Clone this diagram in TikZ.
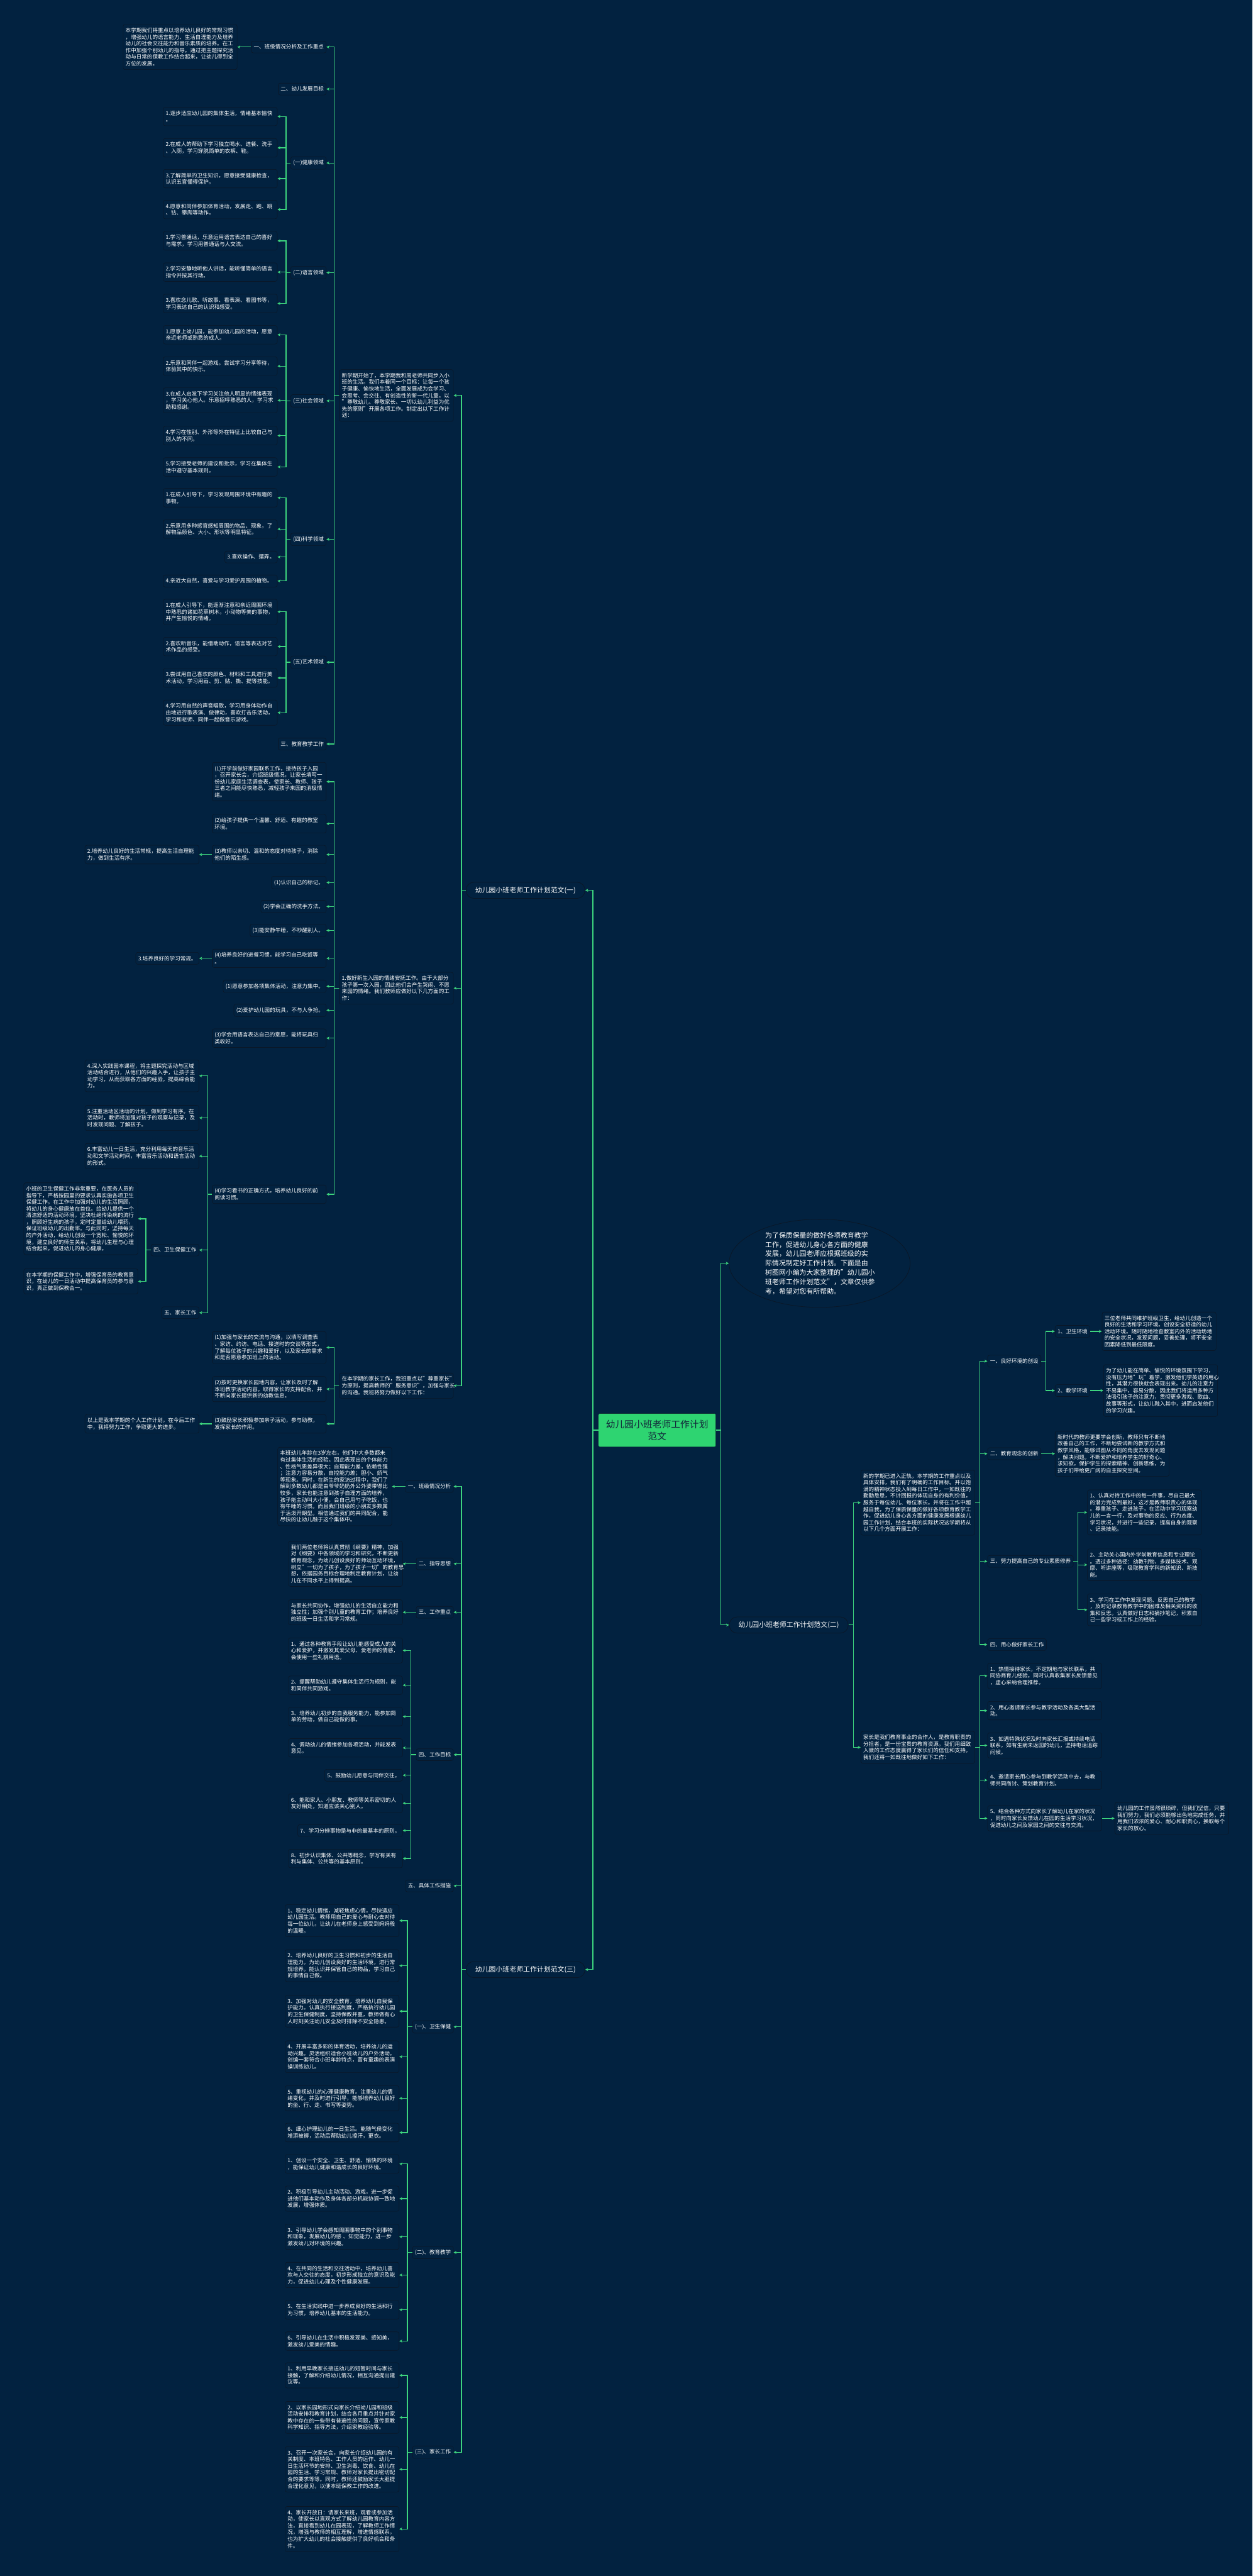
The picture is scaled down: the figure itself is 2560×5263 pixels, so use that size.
\documentclass[tikz,border=0pt]{standalone}
\usepackage{fontspec}
\setmainfont{Noto Sans CJK SC}
\usetikzlibrary{arrows.meta,shapes.geometric}
\definecolor{Navy}{HTML}{022240}
\definecolor{Edge}{HTML}{0A1727}
\definecolor{Leaf}{HTML}{3DD47E}
\definecolor{Mint}{HTML}{2ED471}
\definecolor{Ink}{HTML}{12263A}

\begin{document}
\begin{tikzpicture}[x=1pt, y=-1pt,
    cell/.style={draw=Edge, fill=Navy, rounded corners=4pt, text=white, line width=0.8pt,
      font=\fontsize{11}{13.6}\selectfont, inner xsep=5pt, inner ysep=7pt, align=left},
    para/.style={cell, text width=223pt},
    pill/.style={draw=Edge, fill=Navy, rounded corners=16pt, text=white, line width=1pt,
      font=\fontsize{14}{17}\selectfont, minimum width=243pt, minimum height=33pt},
    lk/.style={draw=Leaf, line width=1.6pt, -{Stealth[length=6pt,width=6pt]}}]
    \fill[Navy] (0,0) rectangle (2560,5263);
    \useasboundingbox (0,0) rectangle (2560,5263);

    % centre and main branches
    \node[fill=Mint, draw=Edge, rounded corners=3pt, text=Ink, font=\fontsize{19}{25}\selectfont,
      align=center, minimum width=240pt, minimum height=68pt] (root) at (1343,2922) {幼儿园小班老师工作计划\\范文};
    \node[pill, anchor=east] (b1) at (1196,1819) {幼儿园小班老师工作计划范文(一)};
    \node[pill, anchor=west] (b2) at (1490,3320) {幼儿园小班老师工作计划范文(二)};
    \node[pill, anchor=east] (b3) at (1196,4024) {幼儿园小班老师工作计划范文(三)};
    \node[ellipse, draw=Edge, fill=Navy, line width=1pt, text=white, minimum width=370pt, minimum height=148pt,
      inner sep=0pt, text width=222pt, align=left, font=\fontsize{14}{19}\selectfont] (intro) at (1675,2581)
      {为了保质保量的做好各项教育教学\\工作，促进幼儿身心各方面的健康\\发展，幼儿园老师应根据班级的实\\际情况制定好工作计划。下面是由\\树图网小编为大家整理的"幼儿园小\\班老师工作计划范文"，文章仅供参\\考，希望对您有所帮助。};

    % branch one
    \node[para, anchor=east] (b1a) at (927,808) {新学期开始了，本学期我和周老师共同步入小\\班的生活。我们本着同一个目标：让每一个孩\\子健康、愉快地生活，全面发展成为会学习、\\会思考、会交往、有创造性的新一代儿童。以\\"尊敬幼儿、尊敬家长、一切以幼儿利益为优\\先的原则"开展各项工作。制定出以下工作计\\划：};
    \node[para, anchor=east] (b1b) at (927,2019) {1.做好新生入园的情绪安抚工作。由于大部分\\孩子第一次入园，因此他们会产生哭闹、不愿\\来园的情绪。我们教师应做好以下几方面的工\\作：};
    \node[para, anchor=east] (b1c) at (927,2831) {在本学期的家长工作，我班重点以"尊重家长"\\为原则，提高教师的"服务意识"，加强与家长\\的沟通。我班将努力做好以下工作：};

    \node[cell, anchor=east] (s1) at (667,96) {一、班级情况分析及工作重点};
    \node[para, anchor=east] (s1t) at (485,96) {本学期我们将重点以培养幼儿良好的常规习惯\\，增强幼儿的语言能力、生活自理能力及培养\\幼儿的社会交往能力和音乐素质的培养。在工\\作中加强个别幼儿的指导。通过把主题探究活\\动与日常的保教工作结合起来，让幼儿得到全\\方位的发展。};
    \node[cell, anchor=east] (s2) at (667,182) {二、幼儿发展目标};
    \node[cell, anchor=east] (s3) at (667,333) {(一)健康领域};
    \node[para, anchor=east] (s3a) at (567,238) {1.逐步适应幼儿园的集体生活，情绪基本愉快\\。};
    \node[para, anchor=east] (s3b) at (567,302) {2.在成人的帮助下学习独立喝水、进餐、洗手\\、入厕，学习穿脱简单的衣裤、鞋。};
    \node[para, anchor=east] (s3c) at (567,365) {3.了解简单的卫生知识，愿意接受健康检查，\\认识五官懂得保护。};
    \node[para, anchor=east] (s3d) at (567,428) {4.愿意和同伴参加体育活动，发展走、跑、跳\\、钻、攀爬等动作。};
    \node[cell, anchor=east] (s4) at (667,557) {(二)语言领域};
    \node[para, anchor=east] (s4a) at (567,492) {1.学习普通话，乐意运用语言表达自己的喜好\\与需求，学习用普通话与人交流。};
    \node[para, anchor=east] (s4b) at (567,556) {2.学习安静地听他人讲话，能听懂简单的语言\\指令并按其行动。};
    \node[para, anchor=east] (s4c) at (567,620) {3.喜欢念儿歌、听故事、看表演、看图书等，\\学习表达自己的认识和感受。};
    \node[cell, anchor=east] (s5) at (667,819) {(三)社会领域};
    \node[para, anchor=east] (s5a) at (567,684) {1.愿意上幼儿园，能参加幼儿园的活动，愿意\\亲近老师或熟悉的成人。};
    \node[para, anchor=east] (s5b) at (567,748) {2.乐意和同伴一起游戏。尝试学习分享等待，\\体验其中的快乐。};
    \node[para, anchor=east] (s5c) at (567,818) {3.在成人启发下学习关注他人明显的情绪表现\\，学习关心他人。乐意招呼熟悉的人，学习求\\助和感谢。};
    \node[para, anchor=east] (s5d) at (567,890) {4.学习在性别、外形等外在特征上比较自己与\\别人的不同。};
    \node[para, anchor=east] (s5e) at (567,954) {5.学习接受老师的建议和批示，学习在集体生\\活中遵守基本规则。};
    \node[cell, anchor=east] (s6) at (667,1102) {(四)科学领域};
    \node[para, anchor=east] (s6a) at (567,1017) {1.在成人引导下，学习发现周围环境中有趣的\\事物。};
    \node[para, anchor=east] (s6b) at (567,1081) {2.乐意用多种感官感知周围的物品、现象，了\\解物品颜色、大小、形状等明显特征。};
    \node[cell, anchor=east] (s6c) at (567,1138) {3.喜欢操作、摆弄。};
    \node[para, anchor=east] (s6d) at (567,1187) {4.亲近大自然，喜爱与学习爱护周围的植物。};
    \node[cell, anchor=east] (s7) at (667,1353) {(五)艺术领域};
    \node[para, anchor=east] (s7a) at (567,1250) {1.在成人引导下，能逐渐注意和亲近周围环境\\中熟悉的诸如花草树木，小动物等美的事物，\\并产生愉悦的情绪。};
    \node[para, anchor=east] (s7b) at (567,1321) {2.喜欢听音乐，能借助动作，语言等表达对艺\\术作品的感受。};
    \node[para, anchor=east] (s7c) at (567,1385) {3.尝试用自己喜欢的颜色、材料和工具进行美\\术活动，学习用画、剪、贴、撕、提等技能。};
    \node[para, anchor=east] (s7d) at (567,1456) {4.学习用自然的声音唱歌，学习用身体动作自\\由地进行歌表演、做律动，喜欢打击乐活动，\\学习和老师、同伴一起做音乐游戏。};
    \node[cell, anchor=east] (s8) at (667,1520) {三、教育教学工作};

    \node[para, anchor=east] (t1) at (667,1597) {(1)开学前做好家园联系工作，接待孩子入园\\，召开家长会，介绍班级情况，让家长填写一\\份幼儿家庭生活调查表，使家长、教师、孩子\\三者之间能尽快熟悉，减轻孩子来园的消极情\\绪。};
    \node[para, anchor=east] (t2) at (667,1683) {(2)给孩子提供一个温馨、舒适、有趣的教室\\环境。};
    \node[para, anchor=east] (t3) at (667,1746) {(3)教师以亲切、温和的态度对待孩子，消除\\他们的陌生感。};
    \node[para, anchor=east] (t3x) at (407,1746) {2.培养幼儿良好的生活常规，提高生活自理能\\力，做到生活有序。};
    \node[cell, anchor=east] (t4) at (667,1803) {(1)认识自己的标记。};
    \node[cell, anchor=east] (t5) at (667,1852) {(2)学会正确的洗手方法。};
    \node[cell, anchor=east] (t6) at (667,1901) {(3)能安静午睡，不吵醒别人。};
    \node[para, anchor=east] (t7) at (667,1958) {(4)培养良好的进餐习惯，能学习自己吃饭等\\。};
    \node[cell, anchor=east] (t7x) at (407,1958) {3.培养良好的学习常规。};
    \node[cell, anchor=east] (t8) at (667,2015) {(1)愿意参加各项集体活动，注意力集中。};
    \node[cell, anchor=east] (t9) at (667,2064) {(2)爱护幼儿园的玩具，不与人争抢。};
    \node[para, anchor=east] (t10) at (667,2121) {(3)学会用语言表达自己的意愿，能将玩具归\\类收好。};
    \node[para, anchor=east] (t11) at (667,2440) {(4)学习看书的正确方式，培养幼儿良好的前\\阅读习惯。};
    \node[para, anchor=east] (u1) at (407,2198) {4.深入实践园本课程，将主题探究活动与区域\\活动结合进行，从他们的兴趣入手，让孩子主\\动学习，从而获取各方面的经验，提高综合能\\力。};
    \node[para, anchor=east] (u2) at (407,2284) {5.注重活动区活动的计划，做到学习有序。在\\活动时，教师将加强对孩子的观察与记录，及\\时发现问题、了解孩子。};
    \node[para, anchor=east] (u3) at (407,2362) {6.丰富幼儿一日生活，充分利用每天的音乐活\\动和文学活动时间，丰富音乐活动和语言活动\\的形式。};
    \node[cell, anchor=east] (u4) at (407,2554) {四、卫生保健工作};
    \node[para, anchor=east] (u4a) at (282,2490) {小班的卫生保健工作非常重要，在医务人员的\\指导下，严格按园里的要求认真实施各项卫生\\保健工作。在工作中加强对幼儿的生活照顾，\\将幼儿的身心健康放在首位。给幼儿提供一个\\清洁舒适的活动环境，坚决杜绝传染病的流行\\，照顾好生病的孩子，定时定量给幼儿喂药，\\保证班级幼儿的出勤率。与此同时，坚持每天\\的户外活动，给幼儿创设一个宽松、愉悦的环\\境，建立良好的师生关系，将幼儿生理与心理\\结合起来，促进幼儿的身心健康。};
    \node[para, anchor=east] (u4b) at (282,2618) {在本学期的保健工作中，增强保育员的教育意\\识，在幼儿的一日活动中提高保育员的参与意\\识，真正做到保教合一。};
    \node[cell, anchor=east] (u5) at (407,2682) {五、家长工作};

    \node[para, anchor=east] (p1) at (667,2753) {(1)加强与家长的交流与沟通，以填写调查表\\、家访、约访、电话、接送时的交谈等形式，\\了解每位孩子的兴趣和爱好，以及家长的需求\\和是否愿意参加班上的活动。};
    \node[para, anchor=east] (p2) at (667,2838) {(2)按时更换家长园地内容，让家长及时了解\\本班教学活动内容，取得家长的支持配合，并\\不断向家长提供新的幼教信息。};
    \node[para, anchor=east] (p3) at (667,2909) {(3)鼓励家长积极参加亲子活动，参与助教，\\发挥家长的作用。};
    \node[para, anchor=east] (p3x) at (407,2909) {以上是我本学期的个人工作计划，在今后工作\\中，我将努力工作，争取更大的进步。};

    % branch two
    \node[para, anchor=west] (m1) at (1759,3070) {新的学期已进入正轨，本学期的工作重点以及\\具体安排，我们有了明确的工作目标。并以饱\\满的精神状态投入到每日工作中，一如既往的\\勤勤恳恳，不计回报的体现自身的有利价值，\\服务于每位幼儿、每位家长。并将在工作中超\\越自我，为了保质保量的做好各项教育教学工\\作，促进幼儿身心各方面的健康发展根据幼儿\\园工作计划，结合本班的实际状况这学期将从\\以下几个方面开展工作：};
    \node[para, anchor=west] (m2) at (1759,3570) {家长是我们教育事业的合作人，是教育职责的\\分担者，是一份宝贵的教育资源。我们用细致\\入微的工作态度赢得了家长们的信任和支持。\\我们还将一如既往地做好如下工作：};

    \node[cell, anchor=west] (e1) at (2018,2781) {一、良好环境的创设};
    \node[cell, anchor=west] (e1a) at (2156,2720) {1、卫生环境};
    \node[para, anchor=west] (e1at) at (2252,2720) {三位老师共同维护班级卫生，给幼儿创造一个\\良好的生活和学习环境。创设安全舒适的幼儿\\活动环境。随时随地检查教室内外的活动场地\\的安全状况，发现问题，妥善处理，将不安全\\因素降低到最低限度。};
    \node[cell, anchor=west] (e1b) at (2156,2841) {2、教学环境};
    \node[para, anchor=west] (e1bt) at (2255,2841) {为了幼儿能在简单、愉悦的环境氛围下学习，\\没有压力地"玩"着学，激发他们学英语的用心\\性，其潜力很快就会表现出来。幼儿的注意力\\不易集中，容易分散，因此我们将运用多种方\\法吸引孩子的注意力，贯彻更多游戏、歌曲、\\故事等形式，让幼儿融入其中，进而启发他们\\的学习兴趣。};
    \node[cell, anchor=west] (e2) at (2018,2970) {二、教育观念的创新};
    \node[para, anchor=west] (e2t) at (2156,2970) {新时代的教师更要学会创新，教师只有不断地\\改善自己的工作，不断地尝试新的教学方式和\\教学风格，能够试图从不同的角度去发现问题\\，解决问题。不断爱护和培养学生的好奇心、\\求知欲，保护学生的探索精神、创新思维，为\\孩子们带给更广阔的自主探究空间。};
    \node[cell, anchor=west] (e3) at (2018,3190) {三、努力提高自己的专业素质修养};
    \node[para, anchor=west] (e3a) at (2222,3090) {1、认真对待工作中的每一件事，尽自己最大\\的潜力完成到最好，这才是教师职责心的体现\\。尊重孩子、走进孩子，在活动中学习观察幼\\儿的一言一行，及对事物的反应、行为态度、\\学习状况，并进行一些记录，提高自身的观察\\、记录技能。};
    \node[para, anchor=west] (e3b) at (2222,3197) {2、主动关心国内外学前教育信息和专业理论\\。透过多种途径：幼教刊物、多媒体技术、观\\摩、听讲座等，吸取教育学科的新知识、新技\\能。};
    \node[para, anchor=west] (e3c) at (2222,3289) {3、学习在工作中发现问题、反思自己的教学\\，及时记录教育教学中的困难及相关资料的收\\集和反思。认真做好日志和摘抄笔记，积累自\\己一些学习或工作上的经验。};
    \node[cell, anchor=west] (e4) at (2018,3360) {四、用心做好家长工作};

    \node[para, anchor=west] (f1) at (2018,3424) {1、热情接待家长，不定期地与家长联系，共\\同协商育儿经验。同时认真收集家长反馈意见\\，虚心采纳合理推荐。};
    \node[para, anchor=west] (f2) at (2018,3495) {2、用心邀请家长参与教学活动及各类大型活\\动。};
    \node[para, anchor=west] (f3) at (2018,3566) {3、如遇特殊状况及时向家长汇报或持续电话\\联系，如有生病未返园的幼儿，坚持电话追踪\\问候。};
    \node[para, anchor=west] (f4) at (2018,3637) {4、邀请家长用心参与到教学活动中去，与教\\师共同商讨、策划教育计划。};
    \node[para, anchor=west] (f5) at (2018,3715) {5、结合各种方式向家长了解幼儿在家的状况\\，同时向家长反馈幼儿在园的生活学习状况，\\促进幼儿之间及家园之间的交往与交流。};
    \node[para, anchor=west] (f5x) at (2278,3715) {幼儿园的工作虽然很琐碎，但我们坚信，只要\\我们努力，我们必须能够出色地完成任务，并\\用我们浓浓的爱心、耐心和职责心，换取每个\\家长的放心。};

    % branch three
    \node[cell, anchor=east] (g1) at (927,3037) {一、班级情况分析};
    \node[para, anchor=east] (g1t) at (801,3037) {本班幼儿年龄在3岁左右，他们中大多数都未\\有过集体生活的经验。因此表现出的个体能力\\、性格气质差异很大；自理能力差，依赖性强\\；注意力容易分散，自控能力差；胆小、娇气\\等现象。同时，在新生的家访过程中，我们了\\解到多数幼儿都是由爷爷奶奶外公外婆带得比\\较多，家长也能注意到孩子自理方面的培养，\\孩子能主动叫大小便，会自己用勺子吃饭，也\\有午睡的习惯。而且我们班级的小朋友多数属\\于活泼开朗型。相信通过我们的共同配合，能\\尽快的让幼儿融于这个集体中。};
    \node[cell, anchor=east] (g2) at (927,3195) {二、指导思想};
    \node[para, anchor=east] (g2t) at (823,3195) {我们两位老师将认真贯彻《纲要》精神，加强\\对《纲要》中各领域的学习和研究，不断更新\\教育观念，为幼儿创设良好的师幼互动环境，\\树立"一切为了孩子，为了孩子一切"的教育思\\想，依据园务目标合理地制定教育计划，让幼\\儿在不同水平上得到提高。};
    \node[cell, anchor=east] (g3) at (927,3294) {三、工作重点};
    \node[para, anchor=east] (g3t) at (823,3294) {与家长共同协作，增强幼儿的生活自立能力和\\独立性；加强个别儿童的教育工作；培养良好\\的班级一日生活和学习常规。};
    \node[cell, anchor=east] (g4) at (927,3585) {四、工作目标};
    \node[para, anchor=east] (g4a) at (823,3372) {1、通过各种教育手段让幼儿能感受成人的关\\心和爱护，并激发其爱父母、爱老师的情感，\\会使用一些礼貌用语。};
    \node[para, anchor=east] (g4b) at (823,3443) {2、提醒帮助幼儿遵守集体生活行为规则，能\\和同伴共同游戏。};
    \node[para, anchor=east] (g4c) at (823,3507) {3、培养幼儿初步的自我服务能力，能参加简\\单的劳动，做自己能做的事。};
    \node[para, anchor=east] (g4d) at (823,3571) {4、调动幼儿的情绪参加各项活动，并能发表\\意见。};
    \node[cell, anchor=east] (g4e) at (823,3627) {5、鼓励幼儿愿意与同伴交往。};
    \node[para, anchor=east] (g4f) at (823,3684) {6、能和家人、小朋友、教师等关系密切的人\\友好相处，知道应该关心别人。};
    \node[cell, anchor=east] (g4g) at (823,3740) {7、学习分辨事物是与非的最基本的原则。};
    \node[para, anchor=east] (g4h) at (823,3797) {8、初步认识集体、公共等概念，学写有关有\\利与集体、公共等的基本原则。};
    \node[cell, anchor=east] (g5) at (927,3853) {五、具体工作措施};
    \node[cell, anchor=east] (g6) at (927,4141) {(一)、卫生保健};
    \node[para, anchor=east] (g6a) at (816,3924) {1、稳定幼儿情绪，减轻焦虑心情，尽快适应\\幼儿园生活。教师用自己的爱心与耐心去对待\\每一位幼儿，让幼儿在老师身上感受到妈妈般\\的温暖。};
    \node[para, anchor=east] (g6b) at (816,4016) {2、培养幼儿良好的卫生习惯和初步的生活自\\理能力。为幼儿创设良好的生活环境，进行常\\规培养。能认识并保管自己的物品，学习自己\\的事情自己做。};
    \node[para, anchor=east] (g6c) at (816,4109) {3、加强对幼儿的安全教育，培养幼儿自我保\\护能力。认真执行接送制度，严格执行幼儿园\\的卫生保健制度，坚持保教并重，教师做有心\\人时刻关注幼儿安全及时排除不安全隐患。};
    \node[para, anchor=east] (g6d) at (816,4202) {4、开展丰富多彩的体育活动，培养幼儿的运\\动兴趣。灵活组织适合小班幼儿的户外活动。\\创编一套符合小班年龄特点，富有童趣的表演\\操训练幼儿。};
    \node[para, anchor=east] (g6e) at (816,4287) {5、重视幼儿的心理健康教育。注重幼儿的情\\绪变化，并及时进行引导，能够培养幼儿良好\\的坐、行、走、书写等姿势。};
    \node[para, anchor=east] (g6f) at (816,4357) {6、细心护理幼儿的一日生活。能随气侯变化\\增添被褥，活动后帮助幼儿擦汗，更衣。};
    \node[cell, anchor=east] (g7) at (927,4602) {(二)、教育教学};
    \node[para, anchor=east] (g7a) at (816,4421) {1、创设一个安全、卫生、舒适、愉快的环境\\，能保证幼儿健康和谐成长的良好环境。};
    \node[para, anchor=east] (g7b) at (816,4492) {2、积极引导幼儿主动活动、游戏，进一步促\\进他们基本动作及身体各部分机能协调一致地\\发展，增强体质。};
    \node[para, anchor=east] (g7c) at (816,4570) {3、引导幼儿学会感知周围事物中的个别事物\\和现象，发展幼儿的感 、知觉能力，进一步\\激发幼儿对环境的兴趣。};
    \node[para, anchor=east] (g7d) at (816,4648) {4、在共同的生活和交往活动中，培养幼儿喜\\欢与人交往的态度，初步形成独立的意识及能\\力，促进幼儿心理及个性健康发展。};
    \node[para, anchor=east] (g7e) at (816,4719) {5、在生活实践中进一步养成良好的生活和行\\为习惯，培养幼儿基本的生活能力。};
    \node[para, anchor=east] (g7f) at (816,4783) {6、引导幼儿在生活中积极发现美、感知美，\\激发幼儿爱美的情趣。};
    \node[cell, anchor=east] (g8) at (927,5010) {(三)、家长工作};
    \node[para, anchor=east] (g8a) at (816,4853) {1、利用早晚家长接送幼儿的短暂时间与家长\\接触，了解和介绍幼儿情况，相互沟通提出建\\议等。};
    \node[para, anchor=east] (g8b) at (816,4939) {2、以家长园地形式向家长介绍幼儿园和班级\\活动安排和教育计划，结合各月重点并针对家\\教中存在的一些带有普遍性的问题，宣传家教\\科学知识、指导方法，介绍家教经验等。};
    \node[para, anchor=east] (g8c) at (816,5045) {3、召开一次家长会，向家长介绍幼儿园的有\\关制度、本班特色、工作人员的运作、幼儿一\\日生活环节的安排、卫生消毒、饮食、幼儿在\\园的生活、学习常规、教师对家长提出密切配\\合的要求等等。同时，教师还鼓励家长大胆提\\合理化意见，以便本班保教工作的改进。};
    \node[para, anchor=east] (g8d) at (816,5167) {4、家长开放日：请家长来班，观看或参加活\\动，使家长以直观方式了解幼儿园教育内容方\\法，直接看到幼儿在园表现，了解教师工作情\\况，增强与教师的相互理解，增进情感联系，\\也为扩大幼儿的社会接触提供了良好机会和条\\件。};

    % connectors
    \draw[lk] (root.west) -- ++(-11,0) |- (b1.east);
    \draw[lk] (root.west) -- ++(-11,0) |- (b3.east);
    \draw[lk] (root.east) -- ++(10,0) |- (intro.west);
    \draw[lk] (root.east) -- ++(10,0) |- (b2.west);

    \draw[lk] (b1.west) -- ++(-9,0) |- (b1a.east);
    \draw[lk] (b1.west) -- ++(-9,0) |- (b1b.east);
    \draw[lk] (b1.west) -- ++(-9,0) |- (b1c.east);

    \draw[lk] (b1a.west) -- ++(-10,0) |- (s1.east);
    \draw[lk] (b1a.west) -- ++(-10,0) |- (s2.east);
    \draw[lk] (b1a.west) -- ++(-10,0) |- (s3.east);
    \draw[lk] (b1a.west) -- ++(-10,0) |- (s4.east);
    \draw[lk] (b1a.west) -- ++(-10,0) |- (s5.east);
    \draw[lk] (b1a.west) -- ++(-10,0) |- (s6.east);
    \draw[lk] (b1a.west) -- ++(-10,0) |- (s7.east);
    \draw[lk] (b1a.west) -- ++(-10,0) |- (s8.east);
    \draw[lk] (s1.west) -- (s1t.east);
    \draw[lk] (s3.west) -- ++(-9,0) |- (s3a.east);
    \draw[lk] (s3.west) -- ++(-9,0) |- (s3b.east);
    \draw[lk] (s3.west) -- ++(-9,0) |- (s3c.east);
    \draw[lk] (s3.west) -- ++(-9,0) |- (s3d.east);
    \draw[lk] (s4.west) -- ++(-9,0) |- (s4a.east);
    \draw[lk] (s4.west) -- ++(-9,0) |- (s4b.east);
    \draw[lk] (s4.west) -- ++(-9,0) |- (s4c.east);
    \draw[lk] (s5.west) -- ++(-9,0) |- (s5a.east);
    \draw[lk] (s5.west) -- ++(-9,0) |- (s5b.east);
    \draw[lk] (s5.west) -- ++(-9,0) |- (s5c.east);
    \draw[lk] (s5.west) -- ++(-9,0) |- (s5d.east);
    \draw[lk] (s5.west) -- ++(-9,0) |- (s5e.east);
    \draw[lk] (s6.west) -- ++(-9,0) |- (s6a.east);
    \draw[lk] (s6.west) -- ++(-9,0) |- (s6b.east);
    \draw[lk] (s6.west) -- ++(-9,0) |- (s6c.east);
    \draw[lk] (s6.west) -- ++(-9,0) |- (s6d.east);
    \draw[lk] (s7.west) -- ++(-9,0) |- (s7a.east);
    \draw[lk] (s7.west) -- ++(-9,0) |- (s7b.east);
    \draw[lk] (s7.west) -- ++(-9,0) |- (s7c.east);
    \draw[lk] (s7.west) -- ++(-9,0) |- (s7d.east);

    \draw[lk] (b1b.west) -- ++(-10,0) |- (t1.east);
    \draw[lk] (b1b.west) -- ++(-10,0) |- (t2.east);
    \draw[lk] (b1b.west) -- ++(-10,0) |- (t3.east);
    \draw[lk] (b1b.west) -- ++(-10,0) |- (t4.east);
    \draw[lk] (b1b.west) -- ++(-10,0) |- (t5.east);
    \draw[lk] (b1b.west) -- ++(-10,0) |- (t6.east);
    \draw[lk] (b1b.west) -- ++(-10,0) |- (t7.east);
    \draw[lk] (b1b.west) -- ++(-10,0) |- (t8.east);
    \draw[lk] (b1b.west) -- ++(-10,0) |- (t9.east);
    \draw[lk] (b1b.west) -- ++(-10,0) |- (t10.east);
    \draw[lk] (b1b.west) -- ++(-10,0) |- (t11.east);
    \draw[lk] (t3.west) -- (t3x.east);
    \draw[lk] (t7.west) -- (t7x.east);
    \draw[lk] (t11.west) -- ++(-9,0) |- (u1.east);
    \draw[lk] (t11.west) -- ++(-9,0) |- (u2.east);
    \draw[lk] (t11.west) -- ++(-9,0) |- (u3.east);
    \draw[lk] (t11.west) -- ++(-9,0) |- (u4.east);
    \draw[lk] (t11.west) -- ++(-9,0) |- (u5.east);
    \draw[lk] (u4.west) -- ++(-10,0) |- (u4a.east);
    \draw[lk] (u4.west) -- ++(-10,0) |- (u4b.east);

    \draw[lk] (b1c.west) -- ++(-10,0) |- (p1.east);
    \draw[lk] (b1c.west) -- ++(-10,0) |- (p2.east);
    \draw[lk] (b1c.west) -- ++(-10,0) |- (p3.east);
    \draw[lk] (p3.west) -- (p3x.east);

    \draw[lk] (b2.east) -- ++(10,0) |- (m1.west);
    \draw[lk] (b2.east) -- ++(10,0) |- (m2.west);
    \draw[lk] (m1.east) -- ++(10,0) |- (e1.west);
    \draw[lk] (m1.east) -- ++(10,0) |- (e2.west);
    \draw[lk] (m1.east) -- ++(10,0) |- (e3.west);
    \draw[lk] (m1.east) -- ++(10,0) |- (e4.west);
    \draw[lk] (e1.east) -- ++(10,0) |- (e1a.west);
    \draw[lk] (e1.east) -- ++(10,0) |- (e1b.west);
    \draw[lk] (e1a.east) -- (e1at.west);
    \draw[lk] (e1b.east) -- (e1bt.west);
    \draw[lk] (e2.east) -- (e2t.west);
    \draw[lk] (e3.east) -- ++(9,0) |- (e3a.west);
    \draw[lk] (e3.east) -- ++(9,0) |- (e3b.west);
    \draw[lk] (e3.east) -- ++(9,0) |- (e3c.west);
    \draw[lk] (m2.east) -- ++(10,0) |- (f1.west);
    \draw[lk] (m2.east) -- ++(10,0) |- (f2.west);
    \draw[lk] (m2.east) -- ++(10,0) |- (f3.west);
    \draw[lk] (m2.east) -- ++(10,0) |- (f4.west);
    \draw[lk] (m2.east) -- ++(10,0) |- (f5.west);
    \draw[lk] (f5.east) -- (f5x.west);

    \draw[lk] (b3.west) -- ++(-9,0) |- (g1.east);
    \draw[lk] (b3.west) -- ++(-9,0) |- (g2.east);
    \draw[lk] (b3.west) -- ++(-9,0) |- (g3.east);
    \draw[lk] (b3.west) -- ++(-9,0) |- (g4.east);
    \draw[lk] (b3.west) -- ++(-9,0) |- (g5.east);
    \draw[lk] (b3.west) -- ++(-9,0) |- (g6.east);
    \draw[lk] (b3.west) -- ++(-9,0) |- (g7.east);
    \draw[lk] (b3.west) -- ++(-9,0) |- (g8.east);
    \draw[lk] (g1.west) -- (g1t.east);
    \draw[lk] (g2.west) -- (g2t.east);
    \draw[lk] (g3.west) -- (g3t.east);
    \draw[lk] (g4.west) -- ++(-11,0) |- (g4a.east);
    \draw[lk] (g4.west) -- ++(-11,0) |- (g4b.east);
    \draw[lk] (g4.west) -- ++(-11,0) |- (g4c.east);
    \draw[lk] (g4.west) -- ++(-11,0) |- (g4d.east);
    \draw[lk] (g4.west) -- ++(-11,0) |- (g4e.east);
    \draw[lk] (g4.west) -- ++(-11,0) |- (g4f.east);
    \draw[lk] (g4.west) -- ++(-11,0) |- (g4g.east);
    \draw[lk] (g4.west) -- ++(-11,0) |- (g4h.east);
    \draw[lk] (g6.west) -- ++(-10,0) |- (g6a.east);
    \draw[lk] (g6.west) -- ++(-10,0) |- (g6b.east);
    \draw[lk] (g6.west) -- ++(-10,0) |- (g6c.east);
    \draw[lk] (g6.west) -- ++(-10,0) |- (g6d.east);
    \draw[lk] (g6.west) -- ++(-10,0) |- (g6e.east);
    \draw[lk] (g6.west) -- ++(-10,0) |- (g6f.east);
    \draw[lk] (g7.west) -- ++(-10,0) |- (g7a.east);
    \draw[lk] (g7.west) -- ++(-10,0) |- (g7b.east);
    \draw[lk] (g7.west) -- ++(-10,0) |- (g7c.east);
    \draw[lk] (g7.west) -- ++(-10,0) |- (g7d.east);
    \draw[lk] (g7.west) -- ++(-10,0) |- (g7e.east);
    \draw[lk] (g7.west) -- ++(-10,0) |- (g7f.east);
    \draw[lk] (g8.west) -- ++(-10,0) |- (g8a.east);
    \draw[lk] (g8.west) -- ++(-10,0) |- (g8b.east);
    \draw[lk] (g8.west) -- ++(-10,0) |- (g8c.east);
    \draw[lk] (g8.west) -- ++(-10,0) |- (g8d.east);
  \end{tikzpicture}
\end{document}
